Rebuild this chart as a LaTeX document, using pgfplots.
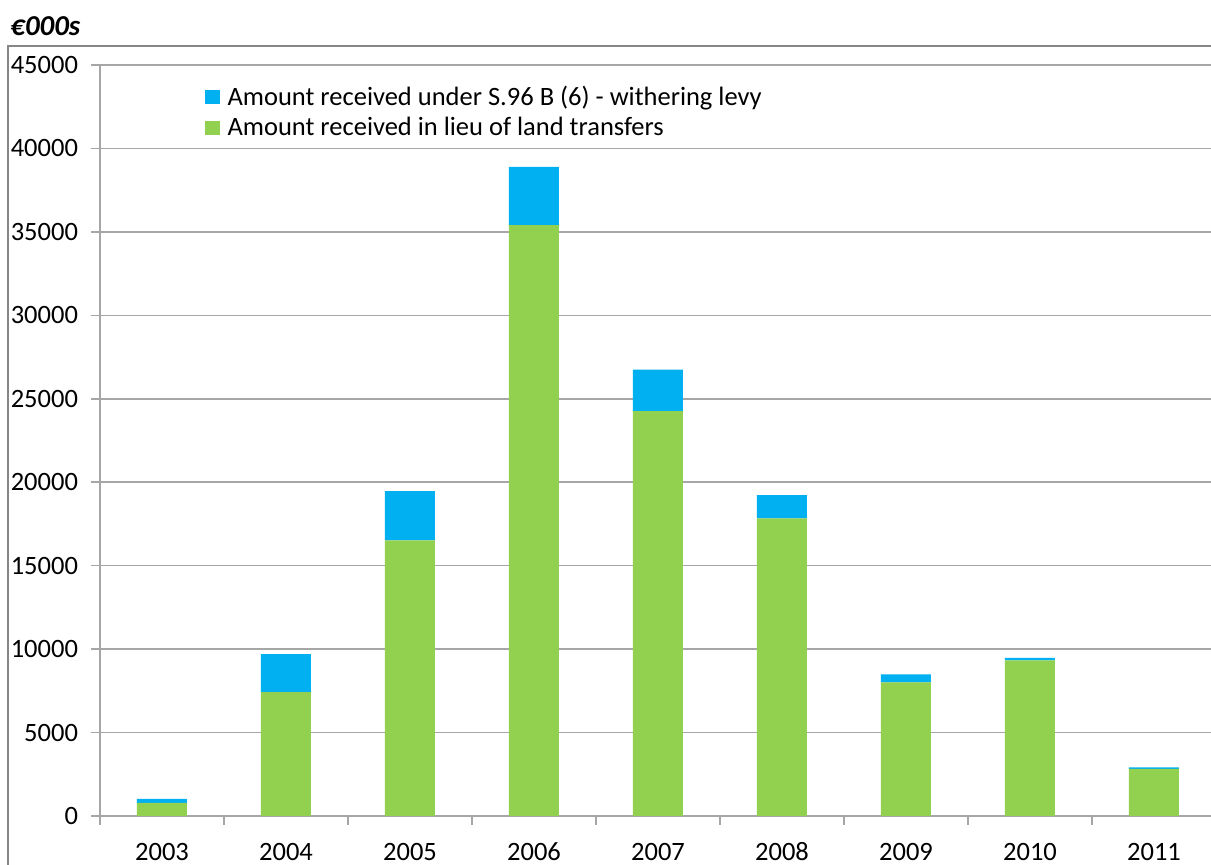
\documentclass[border=0pt]{standalone}
\usepackage{pgfplots}
\pgfplotsset{compat=1.18}
\usepackage{fontspec}
\setmainfont{Carlito}
\definecolor{cgreen}{HTML}{92D050}
\definecolor{cblue}{HTML}{00B0F0}
\definecolor{cgrid}{HTML}{A6A6A6}
\definecolor{cframe}{HTML}{868686}
\begin{document}
\begin{tikzpicture}
\begin{axis}[
  at={(0,0)}, anchor=south west,
  scale only axis, width=558bp, height=375.5bp,
  ybar stacked, bar width=25bp,
  xmin=-0.5, xmax=8.5, ymin=0, ymax=45000,
  xtick={0,1,2,3,4,5,6,7,8},
  xticklabels={2003,2004,2005,2006,2007,2008,2009,2010,2011},
  minor xtick={-0.5,0.5,1.5,2.5,3.5,4.5,5.5,6.5,7.5,8.5},
  ytick={0,5000,...,45000},
  axis x line*=bottom, axis y line*=left,
  axis line style={cgrid, line width=0.8pt},
  tick align=outside,
  major tick length=4.5bp, minor tick length=4.5bp,
  major x tick style={draw=none},
  minor x tick style={cgrid, line width=0.8pt},
  major y tick style={cgrid, line width=0.8pt},
  ymajorgrids, major grid style={cgrid, line width=0.8pt},
  scaled y ticks=false,
  /pgf/number format/assume math mode=true,
  tick label style={font=\fontsize{13.3}{15}\selectfont, text=black},
  yticklabel style={xshift=-3bp, /pgf/number format/.cd, fixed, 1000 sep={}},
  xticklabel style={anchor=base, yshift=-17.5bp},
  legend style={draw=none, fill=none, at={(0.088,0.983)}, anchor=north west,
    font=\fontsize{13.3}{15}\selectfont, row sep=0.3bp},
  legend cell align=left,
  reverse legend,
  legend image code/.code={\fill[#1] (0bp,-3.5bp) rectangle (7.5bp,3.5bp); \path (9.5bp,0bp);},
]
\addplot[fill=cgreen, draw=none] coordinates {(0,780) (1,7430) (2,16520) (3,35400) (4,24260) (5,17840) (6,8000) (7,9320) (8,2820)};
\addlegendentry{Amount received in lieu of land transfers}
\addplot[fill=cblue, draw=none] coordinates {(0,240) (1,2270) (2,2940) (3,3500) (4,2480) (5,1380) (6,480) (7,160) (8,90)};
\addlegendentry{Amount received under S.96 B (6) - withering levy}
\end{axis}
\draw[cframe, line width=0.8pt] (-46bp,-60bp) rectangle (620bp,385bp);
\node[anchor=base west, inner sep=0pt, font=\fontsize{14.5}{16}\selectfont\bfseries\itshape] at (-45bp,390bp) {€000s};
\pgfresetboundingbox
\useasboundingbox (-50bp,-24.5bp) rectangle (555.5bp,408bp);
\end{tikzpicture}
\end{document}
